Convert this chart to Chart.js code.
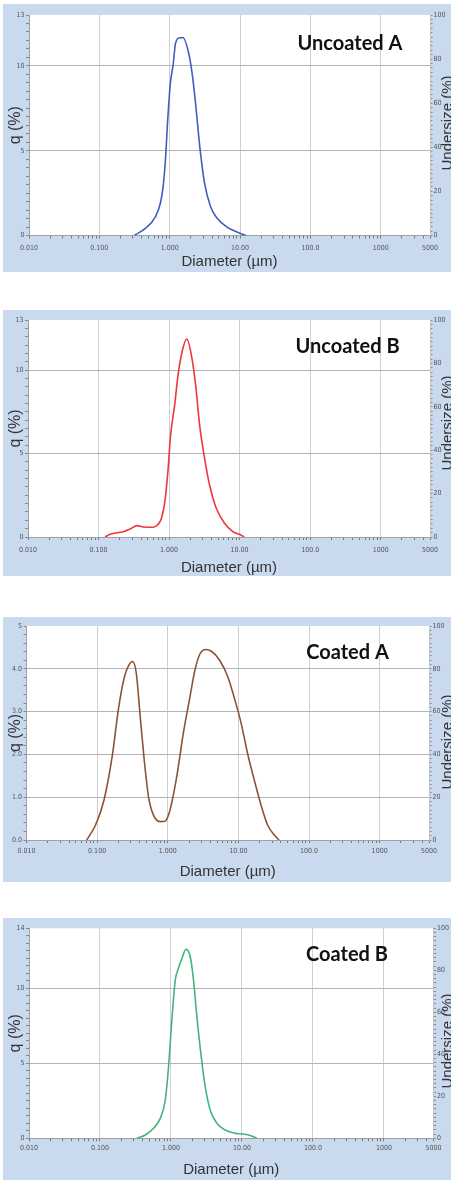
<!DOCTYPE html>
<html><head><meta charset="utf-8">
<script src="https://cdn.jsdelivr.net/npm/chart.js"></script>
<style>
html,body{margin:0;padding:0;background:#fff;width:451px;height:1180px;overflow:hidden;position:relative}
canvas{position:absolute;left:0}
</style></head><body>
<canvas id="c1"></canvas>
<canvas id="c2"></canvas>
<canvas id="c3"></canvas>
<canvas id="c4"></canvas>
<script>
// ---- data (diameter in µm, q in %) ----
const diamUA = [0.313, 0.45, 0.625, 0.736, 0.805, 0.868, 0.936, 1.02, 1.12, 1.21, 1.39, 1.55, 1.87, 2.09, 2.33, 2.68, 3.13, 3.81, 4.75, 6.6, 9.2, 12.1];
const qUA    = [0, 0.42, 1.1, 1.9, 2.87, 4.44, 6.8, 8.95, 10.1, 11.34, 11.66, 11.66, 10.7, 9.5, 7.78, 5.2, 3.07, 1.7, 1.0, 0.48, 0.19, 0];

const diamUB = [0.124, 0.146, 0.224, 0.279, 0.353, 0.43, 0.594, 0.70, 0.78, 0.87, 0.97, 1.05, 1.20, 1.34, 1.55, 1.78, 2.07, 2.38, 2.71, 3.19, 3.76, 4.67, 6.12, 8.0, 9.96, 11.7];
const qUB    = [0, 0.16, 0.32, 0.48, 0.68, 0.6, 0.58, 0.76, 1.12, 2.1, 4.1, 6.1, 7.9, 9.7, 11.2, 11.86, 10.9, 9.1, 6.7, 4.7, 3.1, 1.72, 0.82, 0.32, 0.16, 0];

const diamCA = [0.0713, 0.095, 0.125, 0.163, 0.202, 0.243, 0.28, 0.318, 0.359, 0.408, 0.465, 0.534, 0.628, 0.78, 0.916, 1.077, 1.34, 1.66, 2.06, 2.42, 2.84, 3.45, 4.15, 5.43, 7.1, 8.82, 10.97, 13.5, 16.8, 20.9, 25.9, 32.1, 37.7];
const qCA    = [0, 0.35, 0.93, 1.94, 3.1, 3.81, 4.08, 4.17, 3.89, 2.87, 1.86, 1.01, 0.58, 0.43, 0.44, 0.70, 1.48, 2.49, 3.34, 3.96, 4.34, 4.45, 4.41, 4.2, 3.81, 3.3, 2.72, 2.02, 1.40, 0.82, 0.35, 0.12, 0];

const diamCB = [0.332, 0.435, 0.569, 0.707, 0.831, 0.925, 1.03, 1.15, 1.25, 1.43, 1.63, 1.87, 2.08, 2.32, 2.67, 3.04, 3.57, 4.44, 5.81, 8.06, 10, 12.4, 14.6, 16.2];
const qCB    = [0, 0.22, 0.67, 1.33, 2.55, 4.77, 7.89, 10.55, 11.22, 12.0, 12.6, 12.1, 10.55, 8.1, 5.44, 3.44, 1.89, 1.0, 0.55, 0.33, 0.29, 0.22, 0.1, 0];

// ---- tick labels ----
const xTickVals   = [0.01, 0.1, 1, 10, 100, 1000, 5000];
const xTickLabels = ['0.010', '0.100', '1.000', '10.00', '100.0', '1000', '5000'];
const yTicksU  = [0, 5, 10, 13];  const yLabelsU  = ['0', '5', '10', '13'];
const yTicksCA = [0, 1, 2, 3, 4, 5]; const yLabelsCA = ['0.0', '1.0', '2.0', '3.0', '4.0', '5'];
const yTicksCB = [0, 5, 10, 14];  const yLabelsCB = ['0', '5', '10', '14'];
const y2Ticks  = [0, 20, 40, 60, 80, 100]; const y2Labels = ['0', '20', '40', '60', '80', '100'];
const panelTitles = ['Uncoated A', 'Uncoated B', 'Coated A', 'Coated B'];

const BG = '#c9d9ee';
const TICKFONT = {family: '"Liberation Sans Narrow", "DejaVu Sans Condensed", "Liberation Sans", sans-serif', size: 7};

const decor = {
  id: 'decor',
  beforeDraw(chart, args, o) {
    const {ctx, chartArea: a} = chart;
    ctx.save();
    ctx.fillStyle = BG;
    ctx.fillRect(o.bgX, 0, chart.width - o.bgX, o.bgH);
    ctx.fillStyle = '#ffffff';
    ctx.fillRect(a.left, a.top, a.right - a.left, a.bottom - a.top);
    ctx.restore();
  },
  afterDraw(chart, args, o) {
    const ctx = chart.ctx;
    ctx.save();
    ctx.font = 'bold 20px Lato, "Open Sans", sans-serif';
    ctx.fillStyle = '#111';
    ctx.textAlign = 'center';
    ctx.textBaseline = 'alphabetic';
    ctx.fillText(o.title, o.tx, o.ty);
    ctx.translate(451.5, o.undY);
    ctx.rotate(-Math.PI / 2);
    ctx.font = '15px "Liberation Sans", Arial, sans-serif';
    ctx.fillStyle = '#333';
    ctx.fillText('Undersize (%)', 0, 0);
    ctx.restore();
  }
};

function near(a, b) { return Math.abs(Math.log10(a) - Math.log10(b)) < 1e-6; }

function makeChart(p) {
  const cv = document.getElementById(p.id);
  cv.width = 451; cv.height = p.h; cv.style.top = p.top + 'px';
  const points = p.diam.map((d, i) => ({x: d, y: p.q[i]}));

  const xAll = [];
  for (let e = -2; e <= 3; e++) for (let k = 1; k <= 9; k++) {
    const v = +(k * Math.pow(10, e)).toPrecision(6);
    if (v >= 0.01 && v <= 5000) xAll.push(v);
  }
  const yAll = [];
  const nY = Math.round(p.yMax / p.yStep);
  for (let i = 0; i <= nY; i++) yAll.push(+(i * p.yStep).toFixed(6));
  const y2All = [];
  for (let i = 0; i <= 50; i++) y2All.push(i * 2);

  const B = p.B - p.top;
  const padBottom = p.h - B - p.xH;

  new Chart(cv, {
    type: 'line',
    data: {datasets: [{
      data: points, borderColor: p.color, borderWidth: 1.6, pointRadius: 0,
      fill: false, cubicInterpolationMode: 'monotone'
    }]},
    options: {
      responsive: false, animation: false, devicePixelRatio: 1,
      layout: {padding: {top: p.T - p.top, bottom: padBottom, left: 0, right: 0}},
      plugins: {
        legend: {display: false}, tooltip: {enabled: false},
        decor: {bgX: 3, bgH: p.bgH, title: p.title, tx: p.tx, ty: p.ty - p.top, undY: p.undY - p.top}
      },
      scales: {
        x: {
          type: 'logarithmic', position: 'bottom', min: 0.01, max: 5000,
          afterBuildTicks(s) { s.ticks = xAll.map(v => ({value: v})); },
          afterFit(s) { s.height = p.xH; },
          ticks: {
            autoSkip: false, maxRotation: 0, minRotation: 0, padding: p.xPad,
            font: TICKFONT, color: '#555',
            callback(v) { const i = xTickVals.findIndex(t => near(t, v)); return i >= 0 ? xTickLabels[i] : ''; }
          },
          grid: {
            drawTicks: true, tickLength: 3, tickColor: '#777',
            color: c => ([0.1, 1, 10, 100, 1000].some(t => near(t, c.tick.value)) ? '#cfcfcf' : 'rgba(0,0,0,0)')
          },
          border: {display: true, color: '#a0a0a0'},
          title: {display: true, text: 'Diameter (µm)', color: '#333',
            font: {family: '"Liberation Sans", Arial, sans-serif', size: 15}, padding: {top: 0, bottom: 0}}
        },
        y: {
          type: 'linear', position: 'left', min: 0, max: p.yMax,
          afterBuildTicks(s) { s.ticks = yAll.map(v => ({value: v})); },
          afterFit(s) { s.width = p.L; },
          ticks: {
            autoSkip: false, padding: 1.5, font: TICKFONT, color: '#555',
            callback(v) { const i = p.yT.findIndex(t => Math.abs(t - v) < 1e-6); return i >= 0 ? p.yL[i] : ''; }
          },
          grid: {
            drawTicks: true, tickLength: 3, tickColor: '#888',
            color: c => (p.yT.some(t => Math.abs(t - c.tick.value) < 1e-6) && c.tick.value > 0 && c.tick.value < p.yMax ? '#b4b4b4' : 'rgba(0,0,0,0)')
          },
          border: {display: true, color: '#a0a0a0'},
          title: {display: true, text: 'q (%)', color: '#333',
            font: {family: '"Liberation Sans", Arial, sans-serif', size: 16}, padding: {top: 5.6, bottom: 0}}
        },
        y2: {
          type: 'linear', position: 'right', min: 0, max: 100,
          afterBuildTicks(s) { s.ticks = y2All.map(v => ({value: v})); },
          afterFit(s) { s.width = 451 - p.R; },
          ticks: {
            autoSkip: false, padding: 1, font: TICKFONT, color: '#555',
            callback(v) { const i = y2Ticks.indexOf(v); return i >= 0 ? y2Labels[i] : ''; }
          },
          grid: {drawOnChartArea: false, drawTicks: true, tickLength: 2.5, tickColor: '#888'},
          border: {display: true, color: '#c4c4c4'}
        }
      }
    },
    plugins: [decor]
  });
}

const panelCfg = [
  {id: 'c1', top: 4,   h: 268, bgH: 268, T: 15,    B: 235.5,  xH: 35,   L: 29,   R: 430,   xPad: 5.2,
   diam: diamUA, q: qUA, color: '#3f5fbf', yMax: 13, yStep: 0.5, yT: yTicksU,  yL: yLabelsU,
   title: panelTitles[0], tx: 350,   ty: 50,  undY: 123},
  {id: 'c2', top: 310, h: 270, bgH: 266, T: 320,   B: 537,    xH: 39.5, L: 28,   R: 430,   xPad: 5.7,
   diam: diamUB, q: qUB, color: '#f0363a', yMax: 13, yStep: 0.5, yT: yTicksU,  yL: yLabelsU,
   title: panelTitles[1], tx: 347.5, ty: 353, undY: 423},
  {id: 'c3', top: 617, h: 265, bgH: 265, T: 626,   B: 840,    xH: 40.5, L: 26.5, R: 429,   xPad: 3.7,
   diam: diamCA, q: qCA, color: '#8c5434', yMax: 5,  yStep: 0.2, yT: yTicksCA, yL: yLabelsCA,
   title: panelTitles[2], tx: 347.5, ty: 659, undY: 742},
  {id: 'c4', top: 918, h: 262, bgH: 262, T: 928.3, B: 1138.3, xH: 40.5, L: 29,   R: 433.5, xPad: 2.9,
   diam: diamCB, q: qCB, color: '#43b47c', yMax: 14, yStep: 0.5, yT: yTicksCB, yL: yLabelsCB,
   title: panelTitles[3], tx: 347,   ty: 961, undY: 1041}
];
panelCfg.forEach(makeChart);
</script>
</body></html>
